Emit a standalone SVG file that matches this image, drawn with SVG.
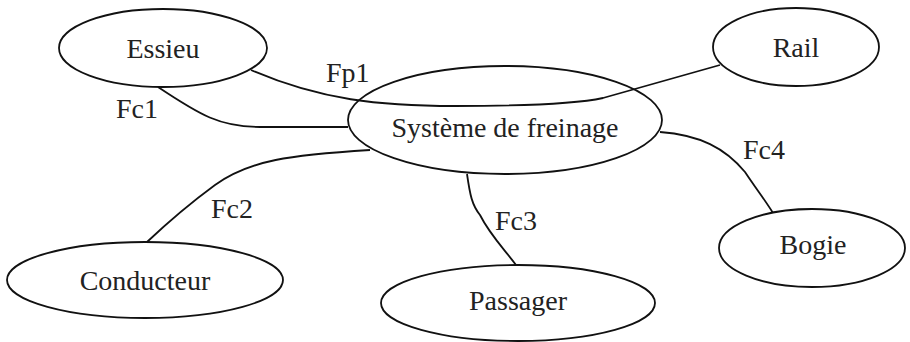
<svg xmlns="http://www.w3.org/2000/svg" width="910" height="342" viewBox="0 0 910 342">
<style>
.n{fill:#fff;stroke:#111;stroke-width:1.8}
.c{fill:none;stroke:#111;stroke-width:1.8}
text{font-family:"Liberation Serif","Times New Roman",serif;font-size:28px;fill:#222}
.m{text-anchor:middle}
</style>
<rect width="910" height="342" fill="#fff"/>
<g id="connectors">
<path class="c" d="M251,70 C320,100 380,106 455,106 C530,106 580,103 603,98 L720,65"/>
<path class="c" d="M158,87 C200,115 220,127 260,127 L348,127"/>
<path class="c" d="M370,150 C290,155 250,160 215,185 C185,207 165,225 147,242"/>
<path class="c" d="M467,174 C470,195 472,205 480,215 C490,235 505,250 516,265"/>
<path class="c" d="M660,132 C700,135 725,148 745,172 C757,190 765,200 773,213"/>
<text x="326" y="82">Fp1</text>
<text x="116" y="118">Fc1</text>
<text x="211" y="218">Fc2</text>
<text x="495" y="230">Fc3</text>
<text x="743" y="159">Fc4</text>
</g>
<g id="essieu"><ellipse class="n" cx="163" cy="48" rx="104" ry="39"/><text class="m" x="163" y="58">Essieu</text></g>
<g id="rail"><ellipse class="n" cx="796" cy="47" rx="83" ry="39"/><text class="m" x="796" y="57">Rail</text></g>
<g id="systeme"><ellipse class="n" cx="505" cy="120" rx="157" ry="54" fill-opacity="0"/><text class="m" x="505" y="137">Système de freinage</text></g>
<g id="conducteur"><ellipse class="n" cx="145" cy="280" rx="138" ry="38"/><text class="m" x="145" y="290">Conducteur</text></g>
<g id="passager"><ellipse class="n" cx="518" cy="303" rx="137" ry="38"/><text class="m" x="518" y="310">Passager</text></g>
<g id="bogie"><ellipse class="n" cx="812" cy="248" rx="93" ry="39"/><text class="m" x="813" y="254">Bogie</text></g>
</svg>
